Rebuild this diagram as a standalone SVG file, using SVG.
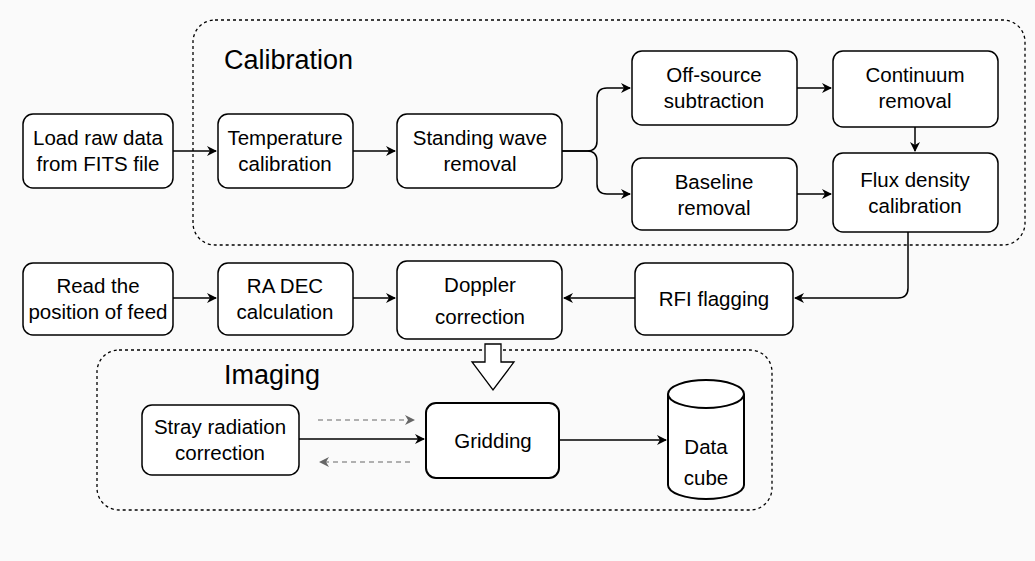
<svg xmlns="http://www.w3.org/2000/svg" width="1035" height="561" viewBox="0 0 1035 561">
<defs>
<style>
.n{fill:#ffffff;stroke:#000;stroke-width:1.5}
.g{fill:none;stroke:#000;stroke-width:1.3;stroke-dasharray:3 3}
.t{font-family:"Liberation Sans",Arial,sans-serif;font-size:20.5px;fill:#000;text-anchor:middle}
.h{font-family:"Liberation Sans",Arial,sans-serif;font-size:27px;fill:#000}
.c{fill:none;stroke:#000;stroke-width:1.5}
.d{fill:none;stroke:#666;stroke-width:1.2;stroke-dasharray:5 4}
</style>
<marker id="a" viewBox="0 0 10 10" refX="9" refY="5" markerWidth="10" markerHeight="10" markerUnits="userSpaceOnUse" orient="auto">
<path d="M0,0 L10,5 L0,10 L3,5 Z" fill="#000"/>
</marker>
<marker id="ag" viewBox="0 0 10 10" refX="9" refY="5" markerWidth="10" markerHeight="10" markerUnits="userSpaceOnUse" orient="auto">
<path d="M0,0 L10,5 L0,10 L3,5 Z" fill="#666"/>
</marker>
</defs>
<rect width="1035" height="561" fill="#fafafa"/>
<g id="calibration-group">
<rect class="g" x="193" y="20" width="832" height="225" rx="22"/>
<text class="h" x="224" y="69">Calibration</text>
</g>
<g id="imaging-group">
<rect class="g" x="97" y="350" width="675" height="160" rx="22"/>
<text class="h" x="224" y="384">Imaging</text>
</g>
<g id="connectors">
<path class="c" d="M173,151 H216" marker-end="url(#a)"/>
<path class="c" d="M353,151 H395" marker-end="url(#a)"/>
<path class="c" d="M562,151 H587 Q597,151 597,141 V98 Q597,88 607,88 H630" marker-end="url(#a)"/>
<path class="c" d="M562,151 H587 Q597,151 597,161 V184 Q597,194 607,194 H630" marker-end="url(#a)"/>
<path class="c" d="M797,88 H831" marker-end="url(#a)"/>
<path class="c" d="M797,194 H831" marker-end="url(#a)"/>
<path class="c" d="M915,127 V151" marker-end="url(#a)"/>
<path class="c" d="M908,232 V288 Q908,298 898,298 H795" marker-end="url(#a)"/>
<path class="c" d="M635,298 H564" marker-end="url(#a)"/>
<path class="c" d="M173,298 H216" marker-end="url(#a)"/>
<path class="c" d="M353,298 H395" marker-end="url(#a)"/>
<path class="c" d="M299,439 H424" marker-end="url(#a)"/>
<path class="c" d="M559,440 H666" marker-end="url(#a)"/>
<path class="d" d="M318,420 H414" marker-end="url(#ag)"/>
<path class="d" d="M410,462 H320" marker-end="url(#ag)"/>
<path d="M485,344 H501 V362 H514 L493,390 L472,362 H485 Z" fill="#fff" stroke="#000" stroke-width="1.3"/>
</g>
<g id="load-raw-data">
<rect class="n" x="23" y="114" width="150" height="74" rx="10"/>
<text class="t" x="98" y="145">Load raw data</text>
<text class="t" x="98" y="171">from FITS file</text>
</g>
<g id="temperature-calibration">
<rect class="n" x="218" y="114" width="135" height="74" rx="10"/>
<text class="t" x="285" y="145">Temperature</text>
<text class="t" x="285" y="171">calibration</text>
</g>
<g id="standing-wave-removal">
<rect class="n" x="397" y="114" width="165" height="74" rx="10"/>
<text class="t" x="480" y="145">Standing wave</text>
<text class="t" x="480" y="171">removal</text>
</g>
<g id="off-source-subtraction">
<rect class="n" x="632" y="51" width="165" height="74" rx="10"/>
<text class="t" x="714" y="82">Off-source</text>
<text class="t" x="714" y="108">subtraction</text>
</g>
<g id="continuum-removal">
<rect class="n" x="833" y="51" width="165" height="76" rx="10"/>
<text class="t" x="915" y="82">Continuum</text>
<text class="t" x="915" y="108">removal</text>
</g>
<g id="baseline-removal">
<rect class="n" x="632" y="158" width="165" height="72" rx="10"/>
<text class="t" x="714" y="189">Baseline</text>
<text class="t" x="714" y="215">removal</text>
</g>
<g id="flux-density-calibration">
<rect class="n" x="833" y="153" width="165" height="79" rx="10"/>
<text class="t" x="915" y="187">Flux density</text>
<text class="t" x="915" y="213">calibration</text>
</g>
<g id="read-position-of-feed">
<rect class="n" x="23" y="263" width="150" height="72" rx="10"/>
<text class="t" x="98" y="293">Read the</text>
<text class="t" x="98" y="319">position of feed</text>
</g>
<g id="ra-dec-calculation">
<rect class="n" x="218" y="263" width="135" height="72" rx="10"/>
<text class="t" x="285" y="293">RA DEC</text>
<text class="t" x="285" y="319">calculation</text>
</g>
<g id="doppler-correction">
<rect class="n" x="397" y="261" width="165" height="78" rx="10"/>
<text class="t" x="480" y="292">Doppler</text>
<text class="t" x="480" y="324">correction</text>
</g>
<g id="rfi-flagging">
<rect class="n" x="635" y="263" width="158" height="72" rx="10"/>
<text class="t" x="714" y="306">RFI flagging</text>
</g>
<g id="stray-radiation-correction">
<rect class="n" x="142" y="405" width="157" height="70" rx="10"/>
<text class="t" x="220" y="434">Stray radiation</text>
<text class="t" x="220" y="460">correction</text>
</g>
<g id="gridding">
<rect class="n" x="426" y="403" width="133" height="75" rx="10" style="stroke-width:2"/>
<text class="t" x="493" y="448">Gridding</text>
</g>
<g id="data-cube">
<path class="n" d="M668,394 A38,14 0 0 1 744,394 V485 A38,14 0 0 1 668,485 Z" style="stroke-width:2"/>
<path class="c" d="M668,394 A38,14 0 0 0 744,394" style="stroke-width:2"/>
<text class="t" x="706" y="454">Data</text>
<text class="t" x="706" y="485">cube</text>
</g>
</svg>
